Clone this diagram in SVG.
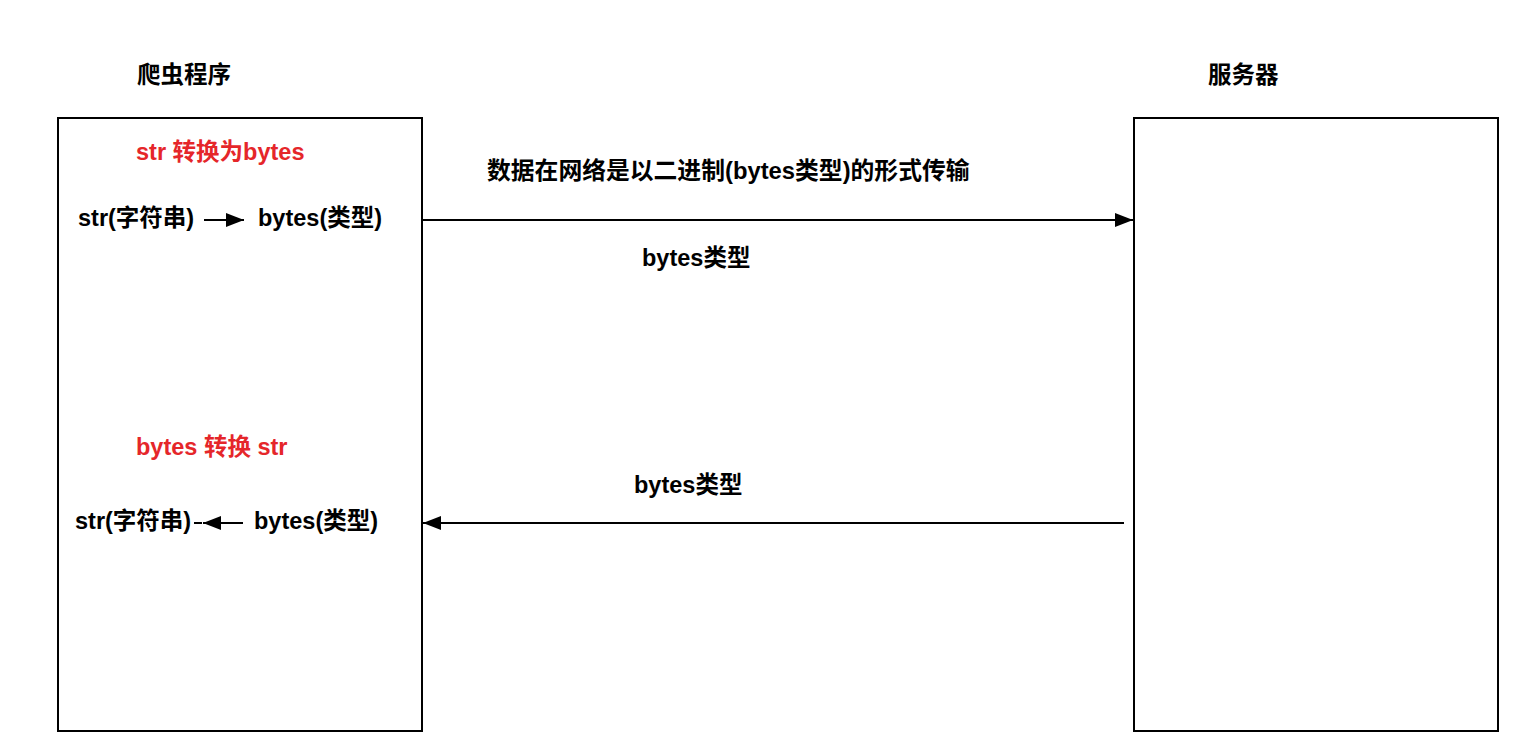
<svg xmlns="http://www.w3.org/2000/svg" width="1530" height="748" viewBox="0 0 1530 748">
<style>
text{font-family:"Liberation Sans","Noto Sans CJK SC",sans-serif;font-weight:bold;font-size:23.5px;fill:#000}
.red{fill:#e5262a}
.big{font-size:23.8px}
.box{fill:#fff;stroke:#000;stroke-width:2}
.ln{stroke:#000;stroke-width:2;fill:none}
</style>
<defs>
<marker id="ahb" viewBox="0 0 10 10" refX="10" refY="5" markerWidth="18" markerHeight="14" markerUnits="userSpaceOnUse" orient="auto" preserveAspectRatio="none">
<path d="M0,0 L10,5 L0,10 Z" fill="#000"/>
</marker>
</defs>
<rect width="1530" height="748" fill="#fff"/>
<g id="crawler">
<rect class="box" x="58" y="118" width="364" height="613"/>
<text x="137" y="83">爬虫程序</text>
<text class="red" x="136" y="160">str 转换为bytes</text>
<text x="78" y="226">str(字符串)</text>
<text x="258" y="226">bytes(类型)</text>
<text class="red" x="136" y="455">bytes 转换 str</text>
<text x="75" y="529">str(字符串)</text>
<text x="254" y="529">bytes(类型)</text>
</g>
<g id="server">
<rect class="box" x="1134" y="118" width="364" height="613"/>
<text x="1208" y="83">服务器</text>
</g>
<g id="connectors">
<line class="ln" x1="204" y1="220" x2="244" y2="220" marker-end="url(#ahb)"/>
<line class="ln" x1="243" y1="523" x2="203" y2="523" marker-end="url(#ahb)"/>
<line class="ln" x1="194" y1="523" x2="202" y2="523"/>
<line class="ln" x1="422" y1="220" x2="1133" y2="220" marker-end="url(#ahb)"/>
<line class="ln" x1="1124" y1="523" x2="423" y2="523" marker-end="url(#ahb)"/>
</g>
<g id="labels">
<text class="big" x="487" y="179">数据在网络是以二进制(bytes类型)的形式传输</text>
<text x="642" y="266">bytes类型</text>
<text x="634" y="493">bytes类型</text>
</g>
</svg>
